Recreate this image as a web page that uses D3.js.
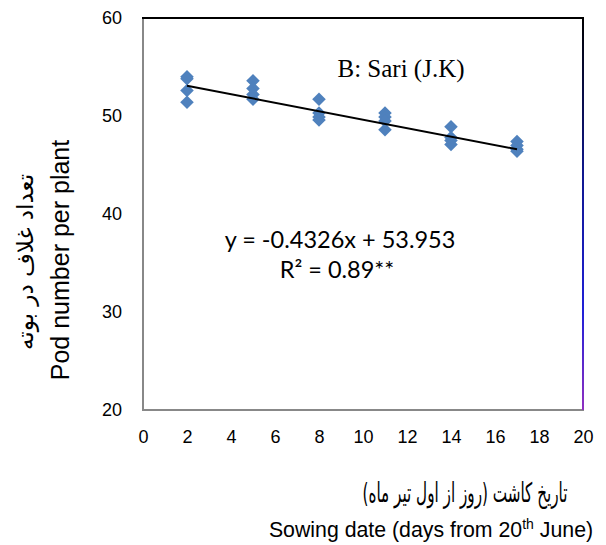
<!DOCTYPE html>
<html><head><meta charset="utf-8">
<script src="https://cdn.jsdelivr.net/npm/d3@7"></script>
<style>body{margin:0;background:#fff}</style>
</head><body>
<svg id="c" width="606" height="545"></svg>
<script>
const xTicks = [0,2,4,6,8,10,12,14,16,18,20];
const yTicks = [20,30,40,50,60];
const sowingDays = [2,2,2,2, 5,5,5,5, 8,8,8,8, 11,11,11,11, 14,14,14,14, 17,17,17,17];
const podNumbers = [54.0,53.8,52.6,51.4, 53.6,52.8,52.2,51.7, 51.7,50.3,49.9,49.6, 50.3,49.9,49.5,48.6, 48.9,47.8,47.5,47.1, 47.4,47.0,46.6,46.4];
const slope = -0.4326, intercept = 53.953;
const trendX = [2,17];
const titleText = "B: Sari (J.K)";
const eqText = "y = -0.4326x + 53.953";
const r2Text = "R\u00B2 = 0.89**";
const yTitleEn = "Pod number per plant";
const yTitleFa = "تعداد غلاف در بوته";
const xTitleFa = "تاریخ کاشت (روز از اول تیر ماه)";

const svg = d3.select("#c");
const L=143, R=583, T=18, B=410;
const x = d3.scaleLinear().domain([0,20]).range([L,R]);
const y = d3.scaleLinear().domain([20,60]).range([B,T]);

const defs = svg.append("defs");
const g = defs.append("linearGradient").attr("id","rg").attr("gradientUnits","userSpaceOnUse")
  .attr("x1",0).attr("y1",T).attr("x2",0).attr("y2",B);
g.append("stop").attr("offset","0%").attr("stop-color","#000");
g.append("stop").attr("offset","40%").attr("stop-color","#101890");
g.append("stop").attr("offset","75%").attr("stop-color","#2020d8");
g.append("stop").attr("offset","100%").attr("stop-color","#9030c0");

svg.append("line").attr("x1",L).attr("x2",L).attr("y1",T).attr("y2",B).attr("stroke","#888").attr("stroke-width",2);
svg.append("line").attr("x1",L-1).attr("x2",R+1).attr("y1",B).attr("y2",B).attr("stroke","#888").attr("stroke-width",2);
svg.append("line").attr("x1",L-1).attr("x2",R+1).attr("y1",T).attr("y2",T).attr("stroke","#000").attr("stroke-width",2);
svg.append("rect").attr("x",R-1).attr("y",T-1).attr("width",2).attr("height",B-T+1).attr("fill","url(#rg)");

const font = "'Liberation Sans', Arial, sans-serif";
const yAxis = svg.append("g").attr("transform",`translate(${L},0)`)
  .call(d3.axisLeft(y).tickValues(yTicks).tickSize(0).tickPadding(21));
yAxis.select(".domain").remove();
yAxis.selectAll("text").attr("font-family",font).attr("font-size",18).attr("fill","#000");
const xAxis = svg.append("g").attr("transform",`translate(0,${B})`)
  .call(d3.axisBottom(x).tickValues(xTicks).tickSize(0).tickPadding(20));
xAxis.select(".domain").remove();
xAxis.selectAll("text").attr("font-family",font).attr("font-size",18).attr("fill","#000");

const sym = d3.symbol().type(d3.symbolSquare).size(92);
svg.append("g").selectAll("path").data(sowingDays.map((d,i)=>[d,podNumbers[i]]))
  .join("path").attr("d",sym)
  .attr("transform",d=>`translate(${x(d[0])},${y(d[1])}) rotate(45)`)
  .attr("fill","#4f81bd");
svg.append("path").datum(trendX)
  .attr("d", d3.line().x(d=>x(d)).y(d=>y(slope*d+intercept)))
  .attr("stroke","#000").attr("stroke-width",2).attr("fill","none");

svg.append("text").attr("x",401).attr("y",77).attr("text-anchor","middle")
  .attr("font-family","'Liberation Serif', 'Times New Roman', serif").attr("font-size",25).text(titleText);
svg.append("text").attr("x",340).attr("y",248).attr("text-anchor","middle")
  .attr("font-family","Lato, 'Open Sans', sans-serif").attr("font-size",23.5).text(eqText);
svg.append("text").attr("x",337).attr("y",278).attr("text-anchor","middle")
  .attr("font-family","Lato, 'Open Sans', sans-serif").attr("font-size",23.5).text(r2Text);

svg.append("text").attr("transform","translate(69,260) rotate(-90)").attr("text-anchor","middle")
  .attr("font-family",font).attr("font-size",25).text(yTitleEn);
svg.append("text").attr("transform","translate(33,262) rotate(-90)").attr("text-anchor","middle")
  .attr("font-family","'DejaVu Sans', sans-serif").attr("font-size",23).attr("direction","rtl").text(yTitleFa);
const xfa = svg.append("text").attr("x",0).attr("y",0).attr("text-anchor","middle")
  .attr("font-family","'DejaVu Sans', sans-serif").attr("font-size",27).attr("direction","rtl").text(xTitleFa);
const len = xfa.node().getComputedTextLength();
const sx = Math.min(1, 205/len);
xfa.attr("transform",`translate(465,502) scale(${sx},1)`);

const xt = svg.append("text").attr("x",431).attr("y",537).attr("text-anchor","middle")
  .attr("font-family",font).attr("font-size",21.3);
xt.append("tspan").text("Sowing date (days from  20");
xt.append("tspan").attr("font-size",14).attr("dy",-8).text("th");
xt.append("tspan").attr("dy",8).text(" June)");
</script>
</body></html>
